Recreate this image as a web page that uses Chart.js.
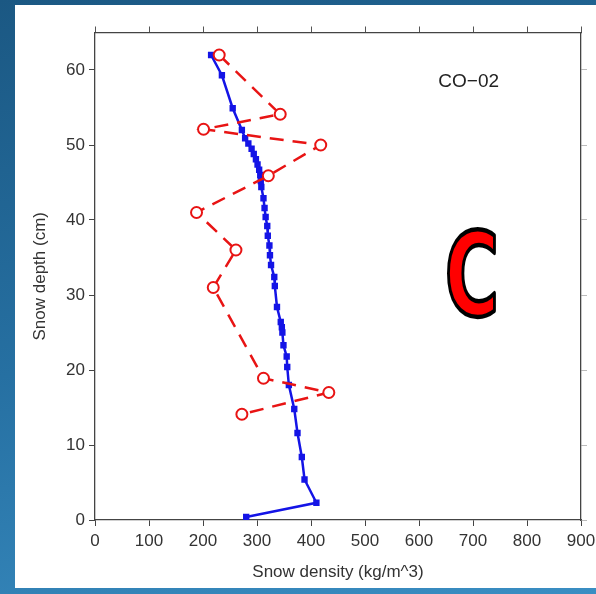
<!DOCTYPE html>
<html>
<head>
<meta charset="utf-8">
<script src="https://cdn.jsdelivr.net/npm/chart.js@4.4.1/dist/chart.umd.min.js"></script>
<style>
  html, body { margin: 0; padding: 0; width: 596px; height: 594px; overflow: hidden; }
  body { position: relative; background: linear-gradient(165deg, #1b5883 0%, #2670a2 50%, #3a8ec3 100%); }
  #panel { position: absolute; left: 15px; top: 5px; right: 0; bottom: 6px; background: #fff; }
  #wrap { position: absolute; left: 0; top: 0; width: 596px; height: 594px; }
</style>
</head>
<body>
<div id="panel"></div>
<div id="wrap"><canvas id="chart"></canvas></div>
<script>
// Profil de densité - station CO-02
const stationLabel = 'CO\u221202';
const panelLetter = 'C';

// ticks des axes
const densityTicks = [0, 100, 200, 300, 400, 500, 600, 700, 800, 900];
const depthTicks = [0, 10, 20, 30, 40, 50, 60];

// série bleue (profil continu)
const blueDepth = [62.0, 59.3, 54.9, 52.0, 50.9, 50.2, 49.5, 48.8, 48.1, 47.4, 46.7, 46.0, 45.2, 44.4,
  42.9, 41.6, 40.4, 39.2, 37.9, 36.6, 35.3, 34.0, 32.4, 31.2, 28.4, 26.4, 25.7, 25.0, 23.3, 21.8,
  20.4, 18.0, 14.8, 11.6, 8.4, 5.4, 2.3, 0.4];
const blueDensity = [215, 235, 255, 272, 278, 284, 290, 294, 298, 301, 304, 306, 307, 308,
  312, 314, 316, 319, 320, 323, 324, 326, 332, 333, 337, 344, 346, 347, 349, 355,
  356, 359, 369, 375, 383, 388, 410, 280];

// série rouge (mesures ponctuelles)
const redDepth = [62.0, 54.1, 52.1, 50.0, 45.9, 41.0, 36.0, 31.0, 18.9, 17.0, 14.1];
const redDensity = [230, 343, 201, 418, 321, 188, 261, 219, 312, 433, 272];

const toPoints = (xs, ys) => xs.map((v, i) => ({ x: v, y: ys[i] }));

const tickFont = { family: '"Liberation Sans", Arial, sans-serif', size: 17 };

const annotations = {
  id: 'annotations',
  afterDraw(chart) {
    const { ctx, scales: { x, y } } = chart;
    ctx.save();
    ctx.fillStyle = '#222';
    ctx.font = '19px "Liberation Sans", Arial, sans-serif';
    ctx.textAlign = 'center';
    ctx.textBaseline = 'middle';
    ctx.fillText(stationLabel, x.getPixelForValue(692), y.getPixelForValue(58.4));

    // grosse lettre rouge
    ctx.translate(x.getPixelForValue(698), y.getPixelForValue(27.3));
    ctx.scale(0.64, 1);
    ctx.font = 'bold 116px "DejaVu Sans", sans-serif';
    ctx.textBaseline = 'alphabetic';
    ctx.lineJoin = 'round';
    ctx.lineWidth = 4.5;
    ctx.strokeStyle = '#000';
    ctx.fillStyle = '#ff0000';
    ctx.fillText(panelLetter, 0, 0);
    ctx.strokeText(panelLetter, 0, 0);
    ctx.restore();
  }
};

const fixTicks = list => scale => { scale.ticks = list.map(v => ({ value: v })); };
const noSidePad = s => { s.paddingLeft = 0; s.paddingRight = 0; };

new Chart(document.getElementById('chart'), {
  type: 'scatter',
  data: {
    datasets: [
      {
        label: 'points',
        data: toPoints(redDensity, redDepth),
        showLine: true,
        borderColor: '#e81414',
        borderWidth: 2.5,
        borderDash: [14, 9],
        pointStyle: 'circle',
        pointRadius: 5.5,
        pointBorderWidth: 2,
        pointBackgroundColor: '#ffffff',
        pointBorderColor: '#e81414'
      },
      {
        label: 'profil',
        data: toPoints(blueDensity, blueDepth),
        showLine: true,
        borderColor: '#1414e6',
        borderWidth: 2.5,
        pointStyle: 'rect',
        pointRadius: 4.5,
        pointBorderWidth: 0,
        pointBackgroundColor: '#1414e6',
        pointBorderColor: '#1414e6'
      }
    ]
  },
  options: {
    responsive: true,
    maintainAspectRatio: false,
    animation: false,
    layout: { padding: { left: 15, right: 0, top: 0, bottom: 0 } },
    plugins: {
      legend: { display: false },
      tooltip: { enabled: false }
    },
    scales: {
      x: {
        type: 'linear',
        position: 'bottom',
        min: 0,
        max: 900,
        afterBuildTicks: fixTicks(densityTicks),
        afterFit: s => { s.height = 74; noSidePad(s); },
        grid: { drawOnChartArea: false, drawTicks: true, tickLength: 6, tickColor: '#444' },
        border: { display: true, color: '#444', width: 1.3 },
        ticks: { color: '#333', font: tickFont, padding: 5, maxRotation: 0, autoSkip: false },
        title: { display: true, text: 'Snow density (kg/m^3)', color: '#333', font: tickFont, padding: { top: 0, bottom: 11 } }
      },
      x2: {
        type: 'linear',
        position: 'top',
        display: true,
        min: 0,
        max: 900,
        afterBuildTicks: fixTicks(densityTicks),
        afterFit: s => { s.height = 32.5; noSidePad(s); },
        grid: { drawOnChartArea: false, drawTicks: true, tickLength: 6, tickColor: '#555' },
        border: { display: true, color: '#444', width: 1.3 },
        ticks: { display: false }
      },
      y: {
        type: 'linear',
        position: 'left',
        min: 0,
        max: 65,
        afterBuildTicks: fixTicks(depthTicks),
        afterFit: s => { s.width = 80; },
        grid: { drawOnChartArea: false, drawTicks: true, tickLength: 6, tickColor: '#444' },
        border: { display: true, color: '#444', width: 1.3 },
        ticks: { color: '#333', font: tickFont, padding: 4, autoSkip: false },
        title: { display: true, text: 'Snow depth (cm)', color: '#333', font: tickFont, padding: { top: 15, bottom: 0 } }
      },
      y2: {
        type: 'linear',
        position: 'right',
        display: true,
        min: 0,
        max: 65,
        afterBuildTicks: fixTicks(depthTicks),
        afterFit: s => { s.width = 15; },
        grid: { drawOnChartArea: false, drawTicks: true, tickLength: 6, tickColor: '#bbb' },
        border: { display: true, color: '#444', width: 1.3 },
        ticks: { display: false }
      }
    }
  },
  plugins: [annotations]
});
</script>
</body>
</html>
